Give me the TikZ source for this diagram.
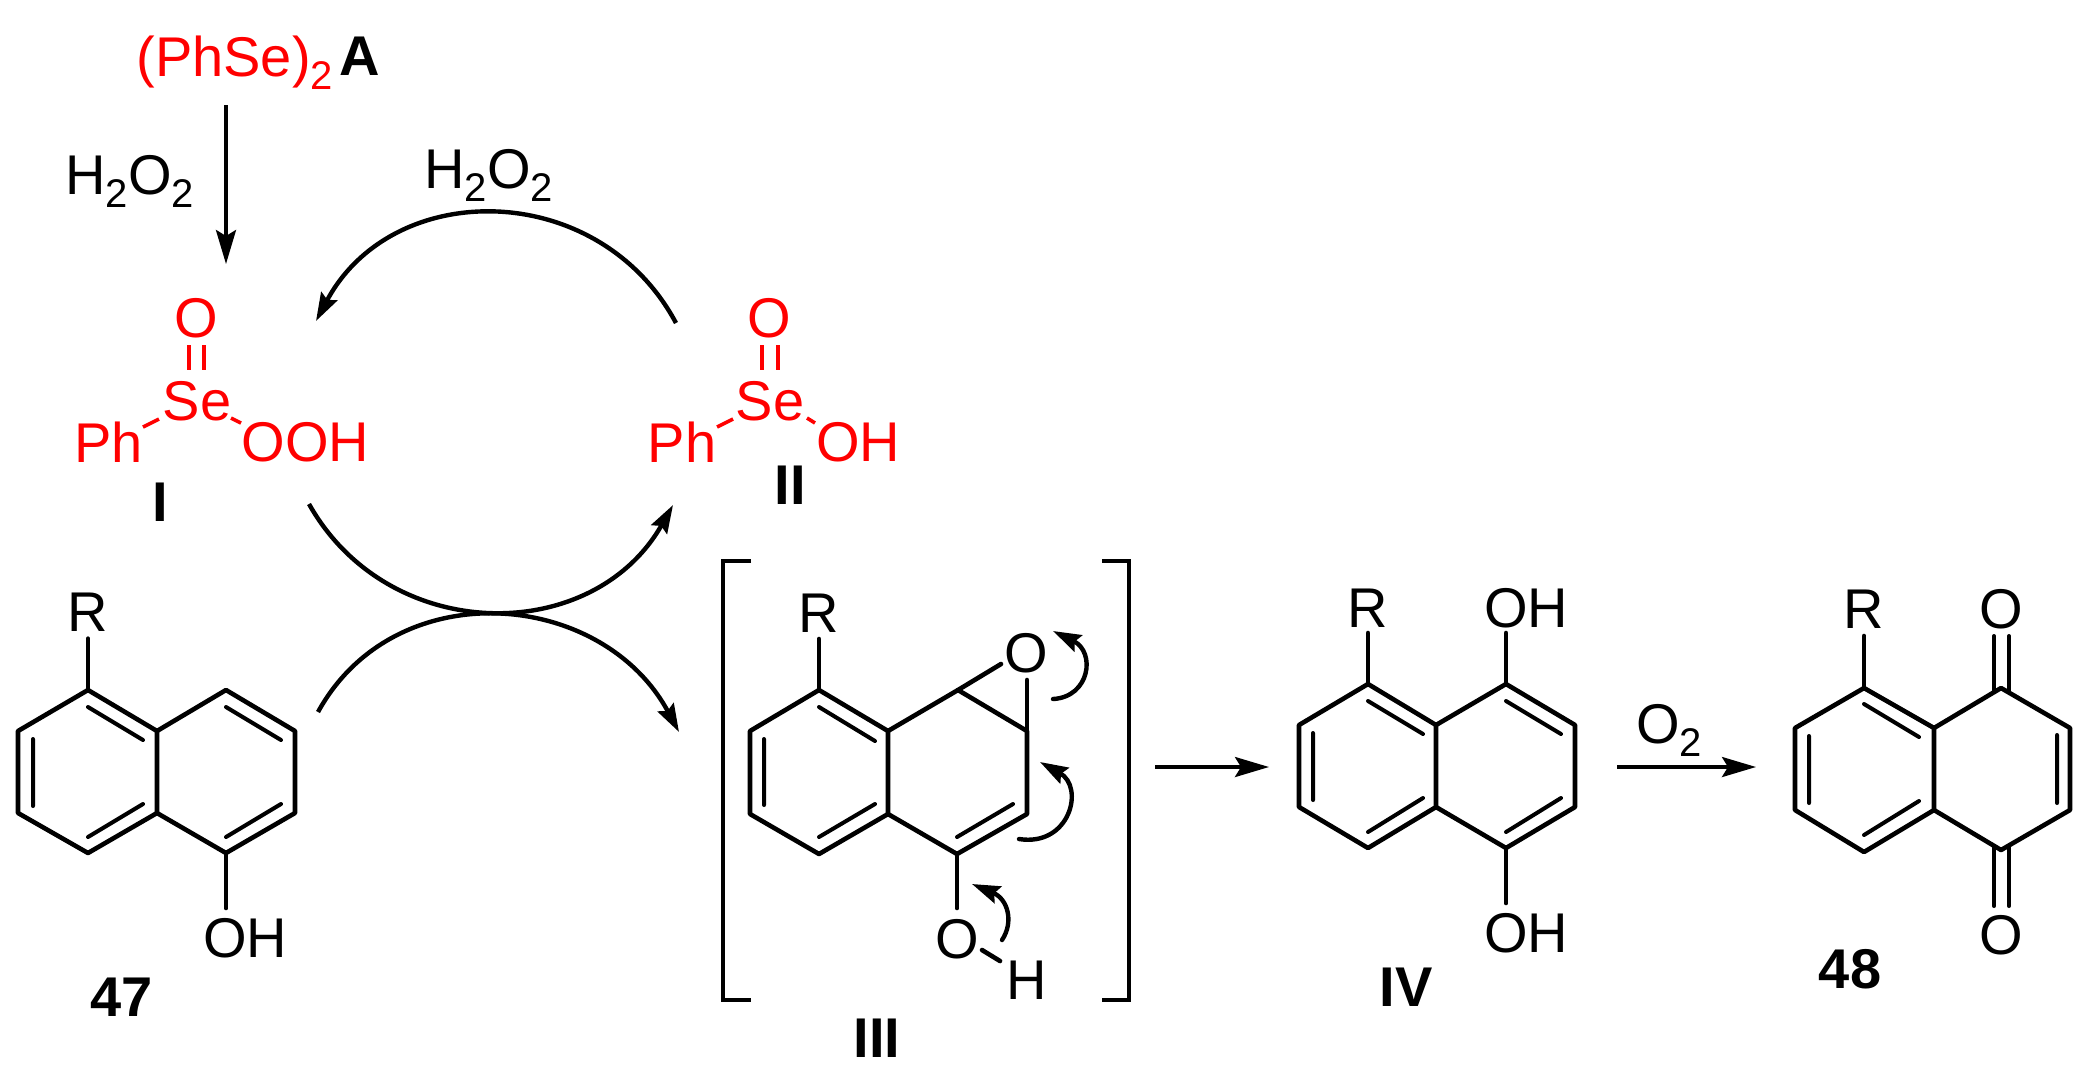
\documentclass[tikz,border=0pt]{standalone}
\usepackage{fontspec}
\setmainfont{Liberation Sans}
\usetikzlibrary{arrows.meta}
\newcommand\subn[1]{\raisebox{-6.5pt}{\fontsize{20}{22}\selectfont #1}}
\tikzset{
  bond/.style={line width=2.3pt,line cap=round,line join=round},
  thinbond/.style={line width=2pt,line cap=round},
  rbond/.style={line width=1.8pt,red},
  atom/.style={font=\fontsize{28}{30}\selectfont,inner sep=3.5pt,text=black},
  ratom/.style={font=\fontsize{28}{30}\selectfont,inner sep=0pt,text=red},
  txt/.style={font=\fontsize{28}{30}\selectfont,inner sep=0pt},
  lab/.style={font=\fontsize{28}{30}\selectfont\bfseries,inner sep=0pt},
  straightarrow/.style={line width=1.8pt,-{Stealth[length=17pt,width=10pt,inset=3pt]}},
  arcarrow/.style={line width=2.2pt,-{Stealth[length=14pt,width=9pt,inset=2pt]}},
  eparrow/.style={line width=2.2pt,line cap=round,-{Stealth[length=14pt,width=9pt,inset=2pt]}},
  bracket/.style={line width=2.3pt}
}
\begin{document}
\begin{tikzpicture}[x=0.5pt,y=-0.5pt]
\useasboundingbox[fill=white] (0,0) rectangle (2096,1089);

% --- top reagents
\node[ratom,anchor=base west] (phse) at (136,76) {(PhSe)\subn{2}};
\node[lab,anchor=base west] (A) at (339,75) {A};
\node[txt,anchor=base west] (h2o2a) at (65,194) {H\subn{2}O\subn{2}};
\node[txt,anchor=base west] (h2o2b) at (424,188) {H\subn{2}O\subn{2}};

% --- compound I
\node[ratom] (Io) at (196,318) {O};
\node[ratom] (Ise) at (197,401) {Se};
\node[ratom] (Iph) at (108.5,442) {Ph};
\node[ratom] (Iooh) at (305.5,442) {OOH};
\node[lab] (Ilab) at (160,502) {I};
\draw[rbond] (189,345) -- (189,370) (204,345) -- (204,370);
\draw[rbond] (143,427) -- (159,419);
\draw[rbond] (231,418) -- (241,423);

% --- compound II
\node[ratom] (IIo) at (769,318) {O};
\node[ratom] (IIse) at (770,401) {Se};
\node[ratom] (IIph) at (682,442) {Ph};
\node[ratom] (IIoh) at (858,442) {OH};
\node[lab] (IIlab) at (790,485) {II};
\draw[rbond] (762,345) -- (762,370) (778,345) -- (778,370);
\draw[rbond] (717,427) -- (733,419);
\draw[rbond] (807,418) -- (815,423);

% --- arrows of the cycle
\coordinate (va) at (226,105);
\coordinate (vb) at (226,264);
\draw[straightarrow] (va) -- (vb);
\coordinate (ta) at (676,323);
\coordinate (tb) at (316,321);
\draw[arcarrow] (ta) .. controls (599,179) and (393,177) .. (tb);
\coordinate (ua) at (309,504);
\coordinate (ub) at (673,505);
\draw[arcarrow] (ua) .. controls (389,646) and (593,646) .. (ub);
\coordinate (la) at (318,712);
\coordinate (lb) at (679,732);
\draw[arcarrow] (la) .. controls (395,572) and (602,589) .. (lb);

% --- compound 47
\foreach \n/\p in {a/{88,690},b/{18,731},c/{18,813},d/{88,853},e/{157,813},f/{157,731},g/{226,690},h/{295,731},i/{295,813},j/{226,853}}
  \coordinate (p\n) at (\p);
\node[atom] (pR) at (88,612) {R};
\node[atom,inner sep=0pt] (pOH) at (245,938) {OH};
\node[lab] (pLab) at (122,997) {47};
\draw[bond] (pa) -- (pb) -- (pc) -- (pd) -- (pe) -- (pf) -- cycle;
\draw[bond] (pf) -- (pg) -- (ph) -- (pi) -- (pj) -- (pe);
\draw[bond] (pa) -- (pR);
\draw[bond] (pj) -- (226,908);
\draw[thinbond] (88,707) -- (143,740) (33,739) -- (33,806) (88,837) -- (143,804)
  (226,707) -- (281,740) (226,837) -- (281,804);

% --- compound III
\foreach \n/\p in {a/{819,690},b/{750,731},c/{750,814},d/{819,854},e/{888,814},f/{888,731},g/{958,690},h/{1027,731},i/{1027,814},j/{957,854}}
  \coordinate (q\n) at (\p);
\node[atom] (qR) at (819,613) {R};
\node[atom,inner sep=0pt] (qO) at (1026,653) {O};
\node[atom,inner sep=0pt] (qO2) at (957,939) {O};
\node[atom,inner sep=0pt] (qH) at (1027,980) {H};
\node[lab] (qLab) at (877,1038) {III};
\draw[bond] (qa) -- (qb) -- (qc) -- (qd) -- (qe) -- (qf) -- cycle;
\draw[bond] (qf) -- (qg) -- (qh) -- (qi) -- (qj) -- (qe);
\draw[bond] (qa) -- (819,639);
\draw[bond] (qg) -- (1001,664);
\draw[bond] (qh) -- (1027,680);
\draw[bond] (qj) -- (957,908);
\draw[bond] (982,950) -- (1000,961);
\draw[thinbond] (819,707) -- (875,741) (764,739) -- (764,805) (819,837) -- (875,804) (957,837) -- (1013,804);
\draw[bracket] (751,561) -- (723,561) -- (723,1000) -- (751,1000);
\draw[bracket] (1102,561) -- (1129,561) -- (1129,1000) -- (1102,1000);
\draw[eparrow] (1053,699) .. controls (1090,697) and (1096,652) .. (1053,631);
\draw[eparrow] (1019,839) .. controls (1070,847) and (1085,787) .. (1040,762);
\draw[eparrow] (1002,940) .. controls (1014,922) and (1008,899) .. (972,884);

% --- arrow to IV
\coordinate (ma) at (1155,767);
\coordinate (mb) at (1269,767);
\draw[straightarrow] (ma) -- (mb);

% --- compound IV
\foreach \n/\p in {a/{1368,684},b/{1299,725},c/{1299,807},d/{1368,848},e/{1436,807},f/{1436,725},g/{1506,684},h/{1575,725},i/{1575,807},j/{1506,848}}
  \coordinate (r\n) at (\p);
\node[atom] (rR) at (1368,608) {R};
\node[atom,inner sep=0pt] (rOHa) at (1526,608) {OH};
\node[atom,inner sep=0pt] (rOHb) at (1526,933) {OH};
\node[lab] (rLab) at (1406,987) {IV};
\draw[bond] (ra) -- (rb) -- (rc) -- (rd) -- (re) -- (rf) -- cycle;
\draw[bond] (rf) -- (rg) -- (rh) -- (ri) -- (rj) -- (re);
\draw[bond] (ra) -- (1368,633);
\draw[bond] (rg) -- (1506,633);
\draw[bond] (rj) -- (1506,903);
\draw[thinbond] (1368,701) -- (1423,734) (1313,733) -- (1313,800) (1368,832) -- (1423,798)
  (1506,701) -- (1561,734) (1506,832) -- (1561,798);

% --- O2 arrow
\node[txt,anchor=base west] (otwo) at (1636,743) {O\subn{2}};
\coordinate (na) at (1617,767);
\coordinate (nb) at (1756,767);
\draw[straightarrow] (na) -- (nb);

% --- compound 48
\foreach \n/\p in {a/{1864,688},b/{1795,728},c/{1795,810},d/{1864,852},e/{1934,810},f/{1934,728},g/{2001,688},h/{2070,728},i/{2070,810},j/{2001,850}}
  \coordinate (s\n) at (\p);
\node[atom] (sR) at (1864,609) {R};
\node[atom,inner sep=0pt] (sOa) at (2001,609) {O};
\node[atom,inner sep=0pt] (sOb) at (2001,935) {O};
\node[lab] (sLab) at (1850,969) {48};
\draw[bond] (sa) -- (sb) -- (sc) -- (sd) -- (se) -- (sf) -- cycle;
\draw[bond] (sf) -- (sg) -- (sh) -- (si) -- (sj) -- (se);
\draw[bond] (sa) -- (1864,636);
\draw[thinbond] (1994,636) -- (1994,692) (2009,636) -- (2009,692)
  (1994,847) -- (1994,906) (2009,847) -- (2009,906);
\draw[thinbond] (1864,704) -- (1919,737) (1809,736) -- (1809,803) (1864,835) -- (1919,801) (2057,735) -- (2057,803);
\end{tikzpicture}
\end{document}
